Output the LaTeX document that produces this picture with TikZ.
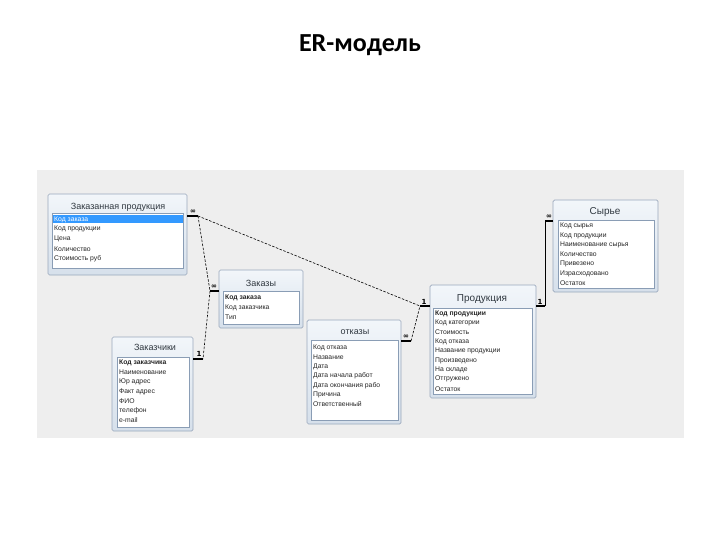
\documentclass[tikz,border=0pt]{standalone}
\usepackage{fontspec}
\setmainfont{Liberation Sans}
\newfontfamily\titlefont{Carlito}
\newfontfamily\symfont{DejaVu Sans}
\definecolor{panelgray}{HTML}{EEEEEE}
\definecolor{winborder}{HTML}{9AA8BC}
\definecolor{wintop}{HTML}{F2F6FA}
\definecolor{winbot}{HTML}{D6E0EB}
\definecolor{lstborder}{HTML}{8A9DB5}
\definecolor{hlblue}{HTML}{3399FF}
\definecolor{ttltext}{HTML}{303840}
\tikzset{
 win/.style={draw=winborder, line width=0.7pt, rounded corners=1.5pt, top color=wintop, bottom color=winbot, anchor=north west, inner sep=0pt, outer sep=0pt},
 lst/.style={draw=lstborder, line width=0.5pt, fill=white, anchor=north west, inner sep=0pt, outer sep=0pt},
 ttl/.style={inner sep=0pt, font=\fontsize{9}{10}\selectfont, text=ttltext},
 fld/.style={anchor=west, inner sep=0pt, font=\fontsize{6.8}{7}\selectfont, text=black!85},
 hlrow/.style={fill=hlblue, anchor=north west, inner sep=0pt, outer sep=0pt},
 stub/.style={line width=1.3pt, black},
 rel/.style={dash pattern=on 2.5pt off 1.5pt, line width=0.6pt, black},
 solidrel/.style={line width=0.6pt, black},
 card/.style={inner sep=0pt, font=\symfont\bfseries\fontsize{7}{7}\selectfont},
}
\begin{document}
\begin{tikzpicture}[x=1pt,y=-1pt]
\useasboundingbox (0,0) rectangle (720,540);
\fill[white] (0,0) rectangle (720,540);
\node[font=\titlefont\bfseries\fontsize{26}{28}\selectfont, inner sep=0pt] (title) at (360,45) {ER-модель};
\node[fill=panelgray, anchor=north west, minimum width=647pt, minimum height=268pt, inner sep=0pt] (panel) at (37,170) {};

% Заказанная продукция
\node[win, minimum width=139pt, minimum height=81pt] (zp) at (48,194) {};
\node[ttl] (zpT) at (118,207) {Заказанная продукция};
\node[lst, minimum width=131pt, minimum height=55pt] (zpL) at (52,213) {};
\node[hlrow, minimum width=130pt, minimum height=8pt] (zpH) at (52.5,215.5) {};
\node[fld, text=white] (zpF0) at (54,219.5) {Код заказа};
\foreach \t [count=\i] in {Код продукции, Цена, Количество, Стоимость руб}
  \node[fld] (zpF\i) at (54,219.5+9.8*\i) {\t};

% Заказы
\node[win, minimum width=84pt, minimum height=58pt] (zk) at (219,270) {};
\node[ttl] (zkT) at (261,283) {Заказы};
\node[lst, minimum width=76pt, minimum height=33pt] (zkL) at (223,291) {};
\node[fld, font=\fontsize{6.8}{7}\selectfont\bfseries] (zkF0) at (225,298) {Код заказа};
\node[fld] (zkF1) at (225,307.5) {Код заказчика};
\node[fld] (zkF2) at (225,317) {Тип};

% Заказчики
\node[win, minimum width=81pt, minimum height=94pt] (zch) at (112,337) {};
\node[ttl] (zchT) at (155,347) {Заказчики};
\node[lst, minimum width=72pt, minimum height=70pt] (zchL) at (117,357) {};
\node[fld, font=\fontsize{6.8}{7}\selectfont\bfseries] (zchF0) at (119,363) {Код заказчика};
\foreach \t [count=\i] in {Наименование, Юр адрес, Факт адрес, ФИО, телефон, e-mail}
  \node[fld] (zchF\i) at (119,363+9.5*\i) {\t};

% отказы
\node[win, minimum width=94pt, minimum height=104pt] (otk) at (307,320) {};
\node[ttl] (otkT) at (355,332) {отказы};
\node[lst, minimum width=87pt, minimum height=80pt] (otkL) at (311,340) {};
\foreach \t [count=\i from 0] in {Код отказа, Название, Дата, Дата начала работ, Дата окончания рабо, Причина, Ответственный}
  \node[fld] (otkF\i) at (313,348+9.4*\i) {\t};

% Продукция
\node[win, minimum width=106pt, minimum height=113pt] (prod) at (430,285) {};
\node[ttl, font=\fontsize{10}{11}\selectfont] (prodT) at (482,299) {Продукция};
\node[lst, minimum width=99pt, minimum height=86pt] (prodL) at (433,308) {};
\node[fld, font=\fontsize{6.8}{7}\selectfont\bfseries] (prodF0) at (435,313.5) {Код продукции};
\foreach \t [count=\i] in {Код категории, Стоимость, Код отказа, Название продукции, Произведено, На складе, Отгружено, Остаток}
  \node[fld] (prodF\i) at (435,313.5+9.4*\i) {\t};

% Сырье
\node[win, minimum width=105pt, minimum height=92pt] (syr) at (553,200) {};
\node[ttl, font=\fontsize{10}{11}\selectfont] (syrT) at (605,212) {Сырье};
\node[lst, minimum width=96pt, minimum height=68pt] (syrL) at (558,220) {};
\foreach \t [count=\i from 0] in {Код сырья, Код продукции, Наименование сырья, Количество, Привезено, Израсходовано, Остаток}
  \node[fld] (syrF\i) at (560,226+9.5*\i) {\t};

% stubs and cardinalities
\coordinate (zpE) at (187,216);  \coordinate (zpS) at (198,216);
\coordinate (zkE) at (219,291);  \coordinate (zkS) at (210,291);
\coordinate (zchE) at (193,359); \coordinate (zchS) at (203,359);
\coordinate (otkE) at (401,341); \coordinate (otkS) at (411,341);
\coordinate (prodLE) at (430,306); \coordinate (prodLS) at (420,306);
\coordinate (prodRE) at (536,306); \coordinate (prodRS) at (545,306);
\coordinate (syrE) at (553,221); \coordinate (syrS) at (545,221);

\draw[stub] (zpE) -- (zpS);
\draw[stub] (zkE) -- (zkS);
\draw[stub] (zchE) -- (zchS);
\draw[stub] (otkE) -- (otkS);
\draw[stub] (prodLE) -- (prodLS);
\draw[stub] (prodRE) -- (prodRS);
\draw[stub] (syrE) -- (syrS);

\node[card] (c1) at (193,211.5) {∞};
\node[card] (c2) at (214,286.5) {∞};
\node[card] (c3) at (199,354) {1};
\node[card] (c4) at (406,336.5) {∞};
\node[card] (c5) at (424,301.5) {1};
\node[card] (c6) at (540,301.5) {1};
\node[card] (c7) at (549,216.5) {∞};

% relations
\draw[rel] (zpS) -- (prodLS);
\draw[rel] (zpS) -- (zkS);
\draw[rel] (zkS) -- (zchS);
\draw[rel] (otkS) -- (prodLS);
\draw[solidrel] (prodRS) -- (syrS);
\end{tikzpicture}
\end{document}
